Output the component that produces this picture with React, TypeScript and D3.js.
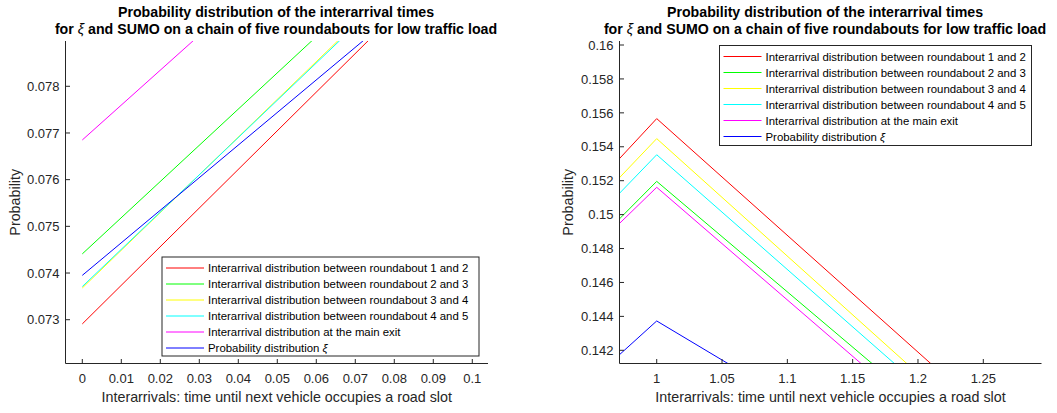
import React from "react";
import * as d3 from "d3";

// x positions of the interarrival samples
const xValues = [0, 1, 2];

// probability per interarrival sample, one array per series
const between12 = [0.07291, 0.15566, 0.08682];
const between23 = [0.07441, 0.15196, 0.08681];
const between34 = [0.07368, 0.15448, 0.08522];
const between45 = [0.07371, 0.15353, 0.08588];
const mainExit = [0.07685, 0.15161, 0.0852];
const xiDist = [0.07395, 0.14373, 0.0977];

const seriesLabels = [
  "Interarrival distribution between roundabout 1 and 2",
  "Interarrival distribution between roundabout 2 and 3",
  "Interarrival distribution between roundabout 3 and 4",
  "Interarrival distribution between roundabout 4 and 5",
  "Interarrival distribution at the main exit",
  "Probability distribution ",
];
const seriesColors = ["#ff0000", "#00ff00", "#ffff00", "#00ffff", "#ff00ff", "#0000ff"];
const seriesValues = [between12, between23, between34, between45, mainExit, xiDist];

const leftXTicks = [0, 0.01, 0.02, 0.03, 0.04, 0.05, 0.06, 0.07, 0.08, 0.09, 0.1];
const leftYTicks = [0.073, 0.074, 0.075, 0.076, 0.077, 0.078];
const rightXTicks = [1, 1.05, 1.1, 1.15, 1.2, 1.25];
const rightYTicks = [0.142, 0.144, 0.146, 0.148, 0.15, 0.152, 0.154, 0.156, 0.158, 0.16];

const titleLine1 = "Probability distribution of the interarrival times";
const xLabel = "Interarrivals: time until next vehicle occupies a road slot";
const yLabel = "Probability";

const FONT = "'Liberation Sans', Arial, Helvetica, sans-serif";
const AXIS = "#262626";

type PanelProps = {
  id: string;
  left: number;
  right: number;
  top: number;
  bottom: number;
  xDomain: [number, number];
  yDomain: [number, number];
  xTicks: number[];
  yTicks: number[];
  titleX: number;
  yLabelX: number;
  legend: { x: number; y: number; w: number; h: number };
};

function fmt(v: number) {
  return String(+v.toFixed(4));
}

function Panel(p: PanelProps) {
  const x = d3.scaleLinear().domain(p.xDomain).range([p.left, p.right]);
  const y = d3.scaleLinear().domain(p.yDomain).range([p.bottom, p.top]);
  const line = d3
    .line<number>()
    .x((_, i) => x(xValues[i]))
    .y((d) => y(d));
  const tick = 4.5;
  const rowH = 16;
  return (
    <g fontFamily={FONT}>
      <defs>
        <clipPath id={p.id}>
          <rect x={p.left} y={p.top} width={p.right - p.left} height={p.bottom - p.top} />
        </clipPath>
      </defs>
      <text x={p.titleX} y={17} textAnchor="middle" fontWeight="bold" fontSize={14.2} fill="#000">
        {titleLine1}
      </text>
      <text x={p.titleX} y={34} textAnchor="middle" fontWeight="bold" fontSize={14.2} fill="#000">
        for <tspan fontStyle="italic" fontWeight="normal">ξ</tspan> and SUMO on a chain of five roundabouts for low traffic load
      </text>
      <g clipPath={`url(#${p.id})`}>
        {seriesValues.map((vals, i) => (
          <path key={i} d={line(vals) || ""} fill="none" stroke={seriesColors[i]} strokeWidth={1} />
        ))}
      </g>
      {/* axes */}
      <line x1={p.left} x2={p.left} y1={p.top} y2={p.bottom} stroke={AXIS} strokeWidth={1} />
      <line x1={p.left} x2={p.right} y1={p.bottom} y2={p.bottom} stroke={AXIS} strokeWidth={1} />
      {p.yTicks.map((t) => (
        <g key={"y" + t}>
          <line x1={p.left} x2={p.left + tick} y1={y(t)} y2={y(t)} stroke={AXIS} />
          <text x={p.left - 6} y={y(t) + 4.7} textAnchor="end" fontSize={13} fill={AXIS}>
            {fmt(t)}
          </text>
        </g>
      ))}
      {p.xTicks.map((t) => (
        <g key={"x" + t}>
          <line x1={x(t)} x2={x(t)} y1={p.bottom} y2={p.bottom - tick} stroke={AXIS} />
          <text x={x(t)} y={p.bottom + 19} textAnchor="middle" fontSize={13} fill={AXIS}>
            {fmt(t)}
          </text>
        </g>
      ))}
      <text x={(p.left + p.right) / 2} y={401.5} textAnchor="middle" fontSize={14.3} fill={AXIS}>
        {xLabel}
      </text>
      <text
        transform={`translate(${p.yLabelX},${(p.top + p.bottom) / 2}) rotate(-90)`}
        textAnchor="middle"
        fontSize={14.3}
        fill={AXIS}
      >
        {yLabel}
      </text>
      {/* legend */}
      <rect x={p.legend.x} y={p.legend.y} width={p.legend.w} height={p.legend.h} fill="#fff" stroke={AXIS} strokeWidth={1} />
      {seriesLabels.map((lab, i) => {
        const ry = p.legend.y + 11 + i * rowH;
        return (
          <g key={"l" + i}>
            <line x1={p.legend.x + 4} x2={p.legend.x + 42} y1={ry} y2={ry} stroke={seriesColors[i]} />
            <text x={p.legend.x + 46} y={ry + 4} fontSize={11.4} fill="#000">
              {lab}
              {i === 5 ? <tspan fontStyle="italic">ξ</tspan> : null}
            </text>
          </g>
        );
      })}
    </g>
  );
}

export default function App() {
  return (
    <svg
      width={1057}
      height={413}
      style={{ position: "absolute", left: 0, top: 0, background: "#fff" }}
    >
      <rect width={1057} height={413} fill="#fff" />
      <Panel
        id="clipLeft"
        left={65.5}
        right={488}
        top={41}
        bottom={363.5}
        xDomain={[-0.00431, 0.10403]}
        yDomain={[0.072062, 0.07897]}
        xTicks={leftXTicks}
        yTicks={leftYTicks}
        titleX={276}
        yLabelX={20}
        legend={{ x: 162, y: 257, w: 317, h: 99 }}
      />
      <Panel
        id="clipRight"
        left={619.5}
        right={1041.5}
        top={41}
        bottom={363.5}
        xDomain={[0.97152, 1.29455]}
        yDomain={[0.141222, 0.160236]}
        xTicks={rightXTicks}
        yTicks={rightYTicks}
        titleX={825}
        yLabelX={573}
        legend={{ x: 719.5, y: 45.5, w: 312, h: 100 }}
      />
    </svg>
  );
}
